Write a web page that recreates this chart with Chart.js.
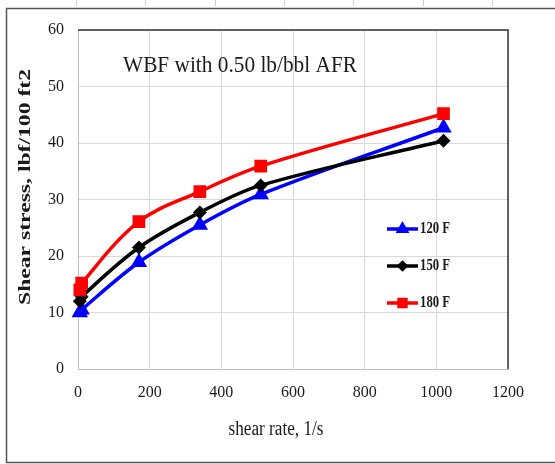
<!DOCTYPE html>
<html>
<head>
<meta charset="utf-8">
<script src="https://cdn.jsdelivr.net/npm/chart.js@4.4.0/dist/chart.umd.min.js"></script>
<style>
  html, body { margin: 0; padding: 0; background: #fff; }
  #c { display: block; }
</style>
</head>
<body>
<canvas id="c" width="555" height="464"></canvas>
<script>
// ---- data ----
const shearRate = [5.1, 10.2, 170, 340, 510, 1020];
const stress120F = [10, 10.5, 18.9, 25.5, 30.9, 42.7];
const stress150F = [12, 12.8, 21.5, 27.7, 32.5, 40.4];
const stress180F = [14, 15.2, 26.1, 31.4, 35.9, 45.2];
const seriesLabels = ['120 F', '150 F', '180 F'];
const xTicks = [0, 200, 400, 600, 800, 1000, 1200];
const yTicks = [0, 10, 20, 30, 40, 50, 60];
const chartTitle = 'WBF with 0.50 lb/bbl AFR';
const xTitle = 'shear rate, 1/s';
const yTitle = 'Shear stress, lbf/100 ft2';

const pts = (ys) => shearRate.map((x, i) => ({ x: x, y: ys[i] }));
const SERIF = '"Liberation Serif", "Times New Roman", serif';

function drawFit(ctx, text, cx, cy, font, targetW, rot, sy) {
  ctx.save();
  ctx.font = font;
  const w = ctx.measureText(text).width;
  ctx.translate(cx, cy);
  if (rot) ctx.rotate(rot);
  ctx.scale(targetW / w, sy || 1);
  ctx.textAlign = 'center';
  ctx.textBaseline = 'middle';
  ctx.fillStyle = '#1a1a1a';
  ctx.fillText(text, 0, 0);
  ctx.restore();
}

const decor = {
  id: 'decor',
  beforeDraw(chart) {
    const ctx = chart.ctx;
    ctx.save();
    ctx.fillStyle = '#fff';
    ctx.fillRect(0, 0, chart.width, chart.height);
    ctx.strokeStyle = '#cfcfcf';
    ctx.lineWidth = 1;
    for (let k = 0; k < 8; k++) {
      const x = Math.round(76 + 69.3 * k) + 0.5;
      ctx.beginPath(); ctx.moveTo(x, 0); ctx.lineTo(x, 6); ctx.stroke();
    }
    ctx.strokeStyle = '#555';
    ctx.lineWidth = 1.5;
    ctx.strokeRect(6.5, 8.5, 560, 454);
    ctx.restore();
  },
  afterDatasetsDraw(chart) {
    const ctx = chart.ctx;
    const a = chart.chartArea;
    ctx.save();
    ctx.strokeStyle = '#333';
    ctx.lineWidth = 1.5;
    ctx.beginPath();
    ctx.moveTo(a.left, a.top);
    ctx.lineTo(a.right, a.top);
    ctx.lineTo(a.right, a.bottom);
    ctx.stroke();
    ctx.restore();
  },
  afterDraw(chart) {
    const ctx = chart.ctx;
    drawFit(ctx, chartTitle, 240, 66, '21px ' + SERIF, 234, 0, 1.05);
    drawFit(ctx, xTitle, 276, 430, '19px ' + SERIF, 95, 0, 1.05);
    drawFit(ctx, yTitle, 26, 187, 'bold 17px ' + SERIF, 236, -Math.PI / 2, 1);
    [0, 1, 2].forEach((i, k) => {
      const ds = chart.data.datasets[i];
      const y = 229 + k * 37;
      ctx.save();
      ctx.strokeStyle = ds.borderColor;
      ctx.lineWidth = ds.borderWidth;
      ctx.beginPath(); ctx.moveTo(387, y); ctx.lineTo(418, y); ctx.stroke();
      ctx.fillStyle = ds.pointBackgroundColor;
      ctx.strokeStyle = ds.borderColor;
      Chart.helpers.drawPoint(ctx, {
        pointStyle: ds.pointStyle, radius: ds.pointRadius * 0.75, rotation: 0, borderWidth: 1
      }, 402.5, y);
      ctx.font = 'bold 15px ' + SERIF;
      ctx.textAlign = 'left';
      ctx.textBaseline = 'middle';
      ctx.fillStyle = '#1a1a1a';
      ctx.translate(420, y);
      ctx.scale(0.85, 1.15);
      ctx.fillText(ds.label, 0, 0);
      ctx.restore();
    });
  }
};

function mkDs(label, data, color, style, r, order) {
  return {
    label: label,
    data: pts(data),
    borderColor: color,
    backgroundColor: color,
    pointBackgroundColor: color,
    pointBorderColor: color,
    borderWidth: 3.5,
    pointStyle: style,
    pointRadius: r,
    pointHoverRadius: r,
    tension: 0.35,
    order: order,
    clip: false
  };
}

new Chart(document.getElementById('c'), {
  type: 'line',
  data: {
    datasets: [
      mkDs(seriesLabels[0], stress120F, '#0000ff', 'triangle', 6, 2),
      mkDs(seriesLabels[1], stress150F, '#000000', 'rectRot', 4.5, 1),
      mkDs(seriesLabels[2], stress180F, '#ff0000', 'rect', 6.5, 0)
    ]
  },
  options: {
    responsive: false,
    animation: false,
    devicePixelRatio: 1,
    layout: { padding: { left: 0, top: 30, right: 47, bottom: 0 } },
    plugins: { legend: { display: false }, tooltip: { enabled: false }, title: { display: false } },
    scales: {
      x: {
        type: 'linear',
        min: xTicks[0],
        max: xTicks[xTicks.length - 1],
        afterBuildTicks: (s) => { s.ticks = xTicks.map(v => ({ value: v })); },
        afterFit: (s) => { s.height = 95; },
        grid: { color: '#d9d9d9', lineWidth: 1, drawTicks: false },
        border: { color: '#bfbfbf', width: 1 },
        ticks: { padding: 14, color: '#1a1a1a', font: { family: SERIF, size: 16 }, callback: (v) => String(v) }
      },
      y: {
        type: 'linear',
        min: yTicks[0],
        max: yTicks[yTicks.length - 1],
        afterBuildTicks: (s) => { s.ticks = yTicks.map(v => ({ value: v })); },
        afterFit: (s) => { s.width = 78; },
        grid: { color: '#d9d9d9', lineWidth: 1, drawTicks: false },
        border: { color: '#bfbfbf', width: 1 },
        ticks: { padding: 14, color: '#1a1a1a', font: { family: SERIF, size: 16 }, callback: (v) => String(v) }
      }
    }
  },
  plugins: [decor]
});
</script>
</body>
</html>
